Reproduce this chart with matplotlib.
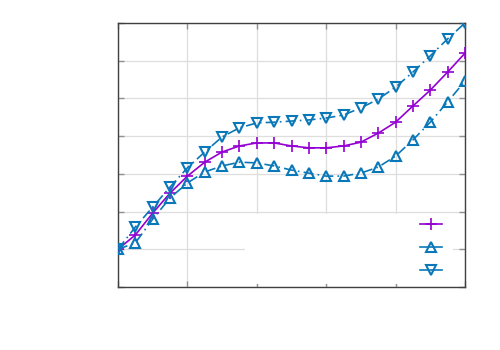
import matplotlib
matplotlib.use("Agg")
import matplotlib.pyplot as plt
from matplotlib.patches import Rectangle

# data
x = [0.00, 0.25, 0.50, 0.75, 1.00, 1.25, 1.50, 1.75, 2.00, 2.25, 2.50,
     2.75, 3.00, 3.25, 3.50, 3.75, 4.00, 4.25, 4.50, 4.75, 5.00]
mean = [0.00, 0.38, 0.96, 1.49, 1.94, 2.31, 2.58, 2.74, 2.82, 2.82, 2.74,
        2.69, 2.69, 2.74, 2.84, 3.08, 3.37, 3.80, 4.22, 4.70, 5.20]
lower = [0.00, 0.17, 0.80, 1.36, 1.76, 2.05, 2.21, 2.31, 2.29, 2.21, 2.10,
         2.02, 1.94, 1.94, 2.02, 2.18, 2.47, 2.90, 3.37, 3.91, 4.46]
upper = [0.00, 0.59, 1.12, 1.65, 2.16, 2.58, 2.98, 3.22, 3.35, 3.37, 3.40,
         3.43, 3.48, 3.56, 3.75, 3.98, 4.30, 4.70, 5.13, 5.58, 6.00]
labels = ["mean", "lower", "upper"]
xticks = [0, 1, 2, 3, 4, 5]
yticks = [-1, 0, 1, 2, 3, 4, 5, 6]

purple = "#9400d3"
blue = "#0a78b8"

fig = plt.figure(figsize=(5, 3.5), dpi=100)
ax = fig.add_axes([118/500, 63/350, 347/500, 264/350])
ax.set_xlim(0, 5)
ax.set_ylim(-1, 6)
ax.set_xticks(xticks)
ax.set_yticks(yticks)
ax.set_axisbelow(True)
ax.grid(True, color="#dedede", lw=0.9)
ax.tick_params(direction="in", length=4, width=1, color="#909090",
               top=True, right=True, labelcolor="white")
for s in ax.spines.values():
    s.set_color("#404040")
    s.set_linewidth(1.0)

# opaque key area
ax.add_patch(Rectangle((0.366, 0.013), 0.599, 0.262, transform=ax.transAxes,
                       facecolor="white", edgecolor="none", zorder=1))

dash = (0, (6, 2.5, 1, 2.5))
ax.plot(x, mean, color=purple, lw=1.2, marker="+", ms=9, mew=1.2,
        label=labels[0], zorder=3)
ax.plot(x, lower, color=blue, lw=1.2, ls=dash, marker="^", ms=7.5,
        mfc="none", mec=blue, mew=1.5, label=labels[1], zorder=3)
ax.plot(x, upper, color=blue, lw=1.2, ls=dash, marker="v", ms=7.5,
        mfc="none", mec=blue, mew=1.5, label=labels[2], zorder=3)

leg = ax.legend(loc="lower right", bbox_to_anchor=(0.934, 0.034),
                frameon=False, markerfirst=False, borderpad=0,
                borderaxespad=0, handlelength=1.6, labelspacing=0.65,
                fontsize=10, handletextpad=0.8)
for t in leg.get_texts():
    t.set_color("white")
for h in leg.legend_handles:
    h.set_linestyle("-")

fig.savefig("out.png", dpi=100)
